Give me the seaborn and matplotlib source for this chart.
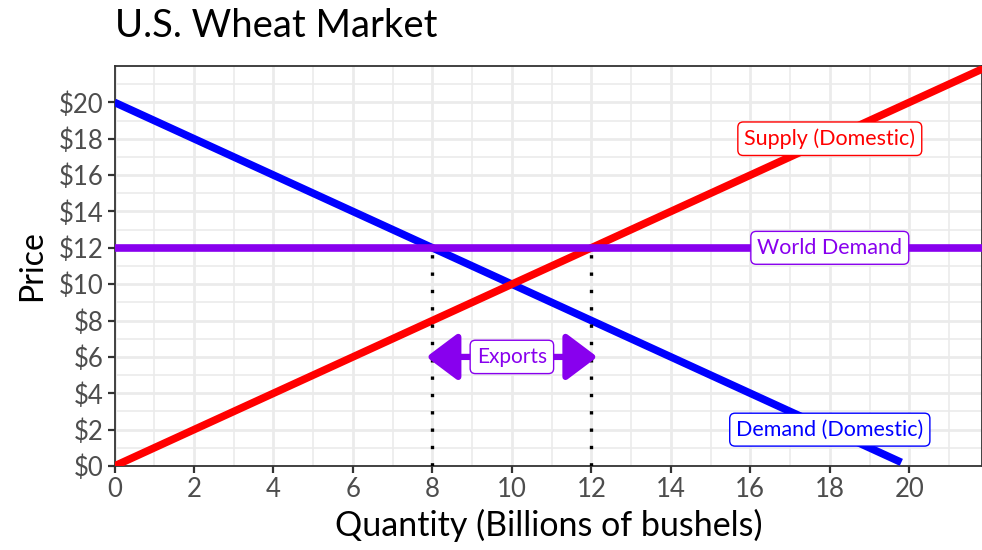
import numpy as np
import pandas as pd
import seaborn as sns
import matplotlib
matplotlib.use("Agg")
import matplotlib.pyplot as plt
from matplotlib.ticker import MultipleLocator, FuncFormatter
from matplotlib.transforms import offset_copy

# Market curves (quantity in billions of bushels, price in dollars)
supply_q = [0, 22]
supply_p = [0, 22]
demand_q = [0, 19.8]
demand_p = [20, 0.2]
world_q = [0, 22]
world_p = [12, 12]

# Export range at the world price
export_from = 8
export_to = 12
export_y = 6

# Curve labels: (text, x, y, colour)
labels = [
    ("Supply (Domestic)", 18, 18, "#FF0000"),
    ("World Demand", 18, 12, "#8800EE"),
    ("Demand (Domestic)", 18, 2, "#0000FF"),
]

x_ticks = list(range(0, 21, 2))
y_ticks = list(range(0, 21, 2))

RED = "#FF0000"
BLUE = "#0000FF"
PURPLE = "#8800EE"

sns.set_theme(style="white")
plt.rcParams["font.family"] = ["Lato", "DejaVu Sans"]

fig = plt.figure(figsize=(9.82, 5.5), dpi=100)
ax = fig.add_axes([0.1166, 0.1527, 0.8834, 0.7273])

supply = pd.DataFrame({"q": supply_q, "p": supply_p})
demand = pd.DataFrame({"q": demand_q, "p": demand_p})
world = pd.DataFrame({"q": world_q, "p": world_p})

sns.lineplot(data=demand, x="q", y="p", color=BLUE, lw=5.5, ax=ax,
             solid_capstyle="butt", zorder=3)
sns.lineplot(data=supply, x="q", y="p", color=RED, lw=5.5, ax=ax,
             solid_capstyle="butt", zorder=4)
sns.lineplot(data=world, x="q", y="p", color=PURPLE, lw=5.5, ax=ax,
             solid_capstyle="butt", zorder=5)

# Dotted guides from the world price down to the axis
for xq in (export_from, export_to):
    ax.plot([xq, xq], [0, world_p[0]], color="black", lw=2.4,
            linestyle=(0, (1, 4.2)), dash_capstyle="butt", zorder=6)

# Double-headed exports arrow; rounded heads reach slightly past the guides
left_tr = offset_copy(ax.transData, fig=fig, x=-6, y=0, units="dots")
right_tr = offset_copy(ax.transData, fig=fig, x=6, y=0, units="dots")
ax.annotate("", xy=(export_from, export_y), xycoords=left_tr,
            xytext=(export_to, export_y), textcoords=right_tr,
            arrowprops=dict(arrowstyle="<|-|>,head_length=1.6,head_width=1.2",
                            mutation_scale=12, lw=4.5, color=PURPLE,
                            shrinkA=0, shrinkB=0, joinstyle="round",
                            capstyle="butt"),
            zorder=7)
ax.text((export_from + export_to) / 2, export_y, "Exports", color=PURPLE,
        fontsize=15, ha="center", va="center", zorder=8,
        bbox=dict(boxstyle="round,pad=0.32,rounding_size=0.25", fc="white",
                  ec=PURPLE, lw=1.0))

for text, xq, yp, col in labels:
    ax.text(xq, yp, text, color=col, fontsize=15.5, ha="center", va="center",
            zorder=8,
            bbox=dict(boxstyle="round,pad=0.3,rounding_size=0.25", fc="white",
                      ec=col, lw=1.0))

ax.set_xlim(0, 21.83)
ax.set_ylim(0, 22)
ax.xaxis.set_minor_locator(MultipleLocator(1))
ax.yaxis.set_minor_locator(MultipleLocator(1))
ax.set_xticks(x_ticks)
ax.set_yticks(y_ticks)
ax.yaxis.set_major_formatter(FuncFormatter(lambda v, _: f"${v:.0f}"))

ax.grid(which="major", color="#EBEBEB", lw=2.0)
ax.grid(which="minor", color="#EBEBEB", lw=1.2)
ax.set_axisbelow(True)

ax.tick_params(which="major", length=5, width=1.6, color="#333333",
               labelsize=18.5, labelcolor="#4D4D4D", pad=3,
               bottom=True, left=True)
ax.tick_params(which="minor", length=0)
for s in ax.spines.values():
    s.set_color("#333333")
    s.set_linewidth(1.3)

ax.set_xlabel("Quantity (Billions of bushels)", fontsize=24.5, color="black",
              labelpad=5)
ax.set_ylabel("Price", fontsize=23, color="black", labelpad=8)

fig.text(0.1166, 0.952, "U.S. Wheat Market", fontsize=27.5, ha="left",
         va="center", color="black")

fig.savefig("out.png", dpi=100)
